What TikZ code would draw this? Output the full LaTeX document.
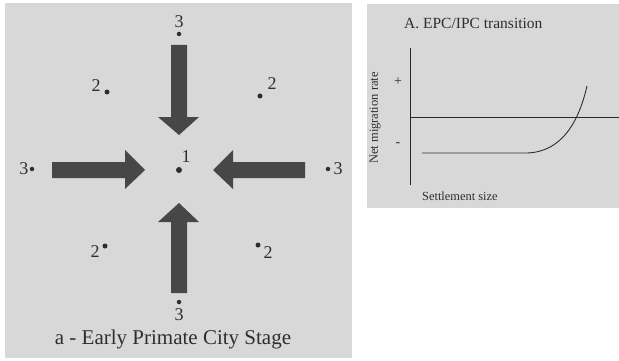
\documentclass[tikz,border=0pt]{standalone}
\usepackage{fontspec}
\setmainfont{Liberation Serif}
\usetikzlibrary{calc}
\definecolor{panelbg}{HTML}{D8D8D8}
\definecolor{arrowfill}{HTML}{474747}
\definecolor{inktext}{HTML}{2E2E2E}
\begin{document}
\begin{tikzpicture}[x=1pt,y=-1pt,
  numlab/.style={text=inktext,font=\fontsize{18}{18}\selectfont,inner sep=0pt},
  citydot/.style={circle,fill=inktext,minimum size=6pt,inner sep=0pt},
  bigarrow/.style={fill=arrowfill,draw=none},
  axisline/.style={draw=inktext!85!black,line width=1pt},
  graphtext/.style={text=inktext,inner sep=0pt}]
\useasboundingbox (0,0) rectangle (619,361);
\fill[white] (0,0) rectangle (619,361);
% panels
\fill[panelbg] (5,3) rectangle (352,358);
\fill[panelbg] (367,4) rectangle (619,208);

% dots
\node[citydot] (c1) at (179,170) {};
\node[numlab] (l1) at (186,157) {1};
\node[citydot,minimum size=4.5pt] (t3) at (179,34) {};
\node[numlab] (lt3) at (179,22) {3};
\node[citydot,minimum size=4.5pt] (b3) at (179,302) {};
\node[numlab] (lb3) at (179,315) {3};
\node[citydot,minimum size=4.5pt] (w3) at (32,169) {};
\node[numlab] (lw3) at (24,169) {3};
\node[citydot,minimum size=4.5pt] (e3) at (328,169) {};
\node[numlab] (le3) at (338,169) {3};
\node[citydot,minimum size=5pt] (nw2) at (107,92) {};
\node[numlab] (lnw2) at (96,86) {2};
\node[citydot,minimum size=5pt] (ne2) at (260,96) {};
\node[numlab] (lne2) at (272,84) {2};
\node[citydot,minimum size=5pt] (sw2) at (105,246) {};
\node[numlab] (lsw2) at (95,252) {2};
\node[citydot,minimum size=5pt] (se2) at (258,245) {};
\node[numlab] (lse2) at (268,253) {2};

% arrows (block arrows)
% top: pointing down
\fill[bigarrow] (171,45) -- (187,45) -- (187,117) -- (199,117) -- (179,135) -- (158,117) -- (171,117) -- cycle;
% bottom: pointing up
\fill[bigarrow] (171,293) -- (187,293) -- (187,222) -- (199,222) -- (179,203) -- (158,222) -- (171,222) -- cycle;
% left: pointing right
\fill[bigarrow] (52,162) -- (125,162) -- (125,150) -- (145,170) -- (125,189) -- (125,178) -- (52,178) -- cycle;
% right: pointing left
\fill[bigarrow] (305,162) -- (233,162) -- (233,150) -- (213,170) -- (233,189) -- (233,178) -- (305,178) -- cycle;

\node[text=inktext,font=\fontsize{21}{21}\selectfont,inner sep=0pt] (cap) at (173,339) {a - Early Primate City Stage};

% right panel
\node[graphtext,font=\fontsize{15.5}{15.5}\selectfont,anchor=west] (title) at (404,23) {A. EPC/IPC transition};
\coordinate (ytop) at (410,48);
\coordinate (ybot) at (410,185);
\coordinate (hl) at (410,117);
\coordinate (hr) at (619,117);
\draw[axisline] (ytop) -- (ybot);
\draw[axisline] (hl) -- (hr);
\node[graphtext,font=\fontsize{14}{14}\selectfont] (plus) at (398,82) {+};
\node[graphtext,font=\fontsize{14}{14}\selectfont] (minus) at (398,145) {-};
\node[graphtext,font=\fontsize{12.5}{12.5}\selectfont,rotate=90] (ylab) at (375,118) {Net migration rate};
\node[graphtext,font=\fontsize{12.4}{12.4}\selectfont,anchor=west] (xlab) at (422,196) {Settlement size};
\coordinate (c0) at (422,153);
\coordinate (c1a) at (527,153);
\coordinate (cend) at (587,86);
\draw[draw=inktext,line width=0.9pt] (c0) -- (c1a) .. controls (560,152) and (578,125) .. (cend);
\end{tikzpicture}
\end{document}
